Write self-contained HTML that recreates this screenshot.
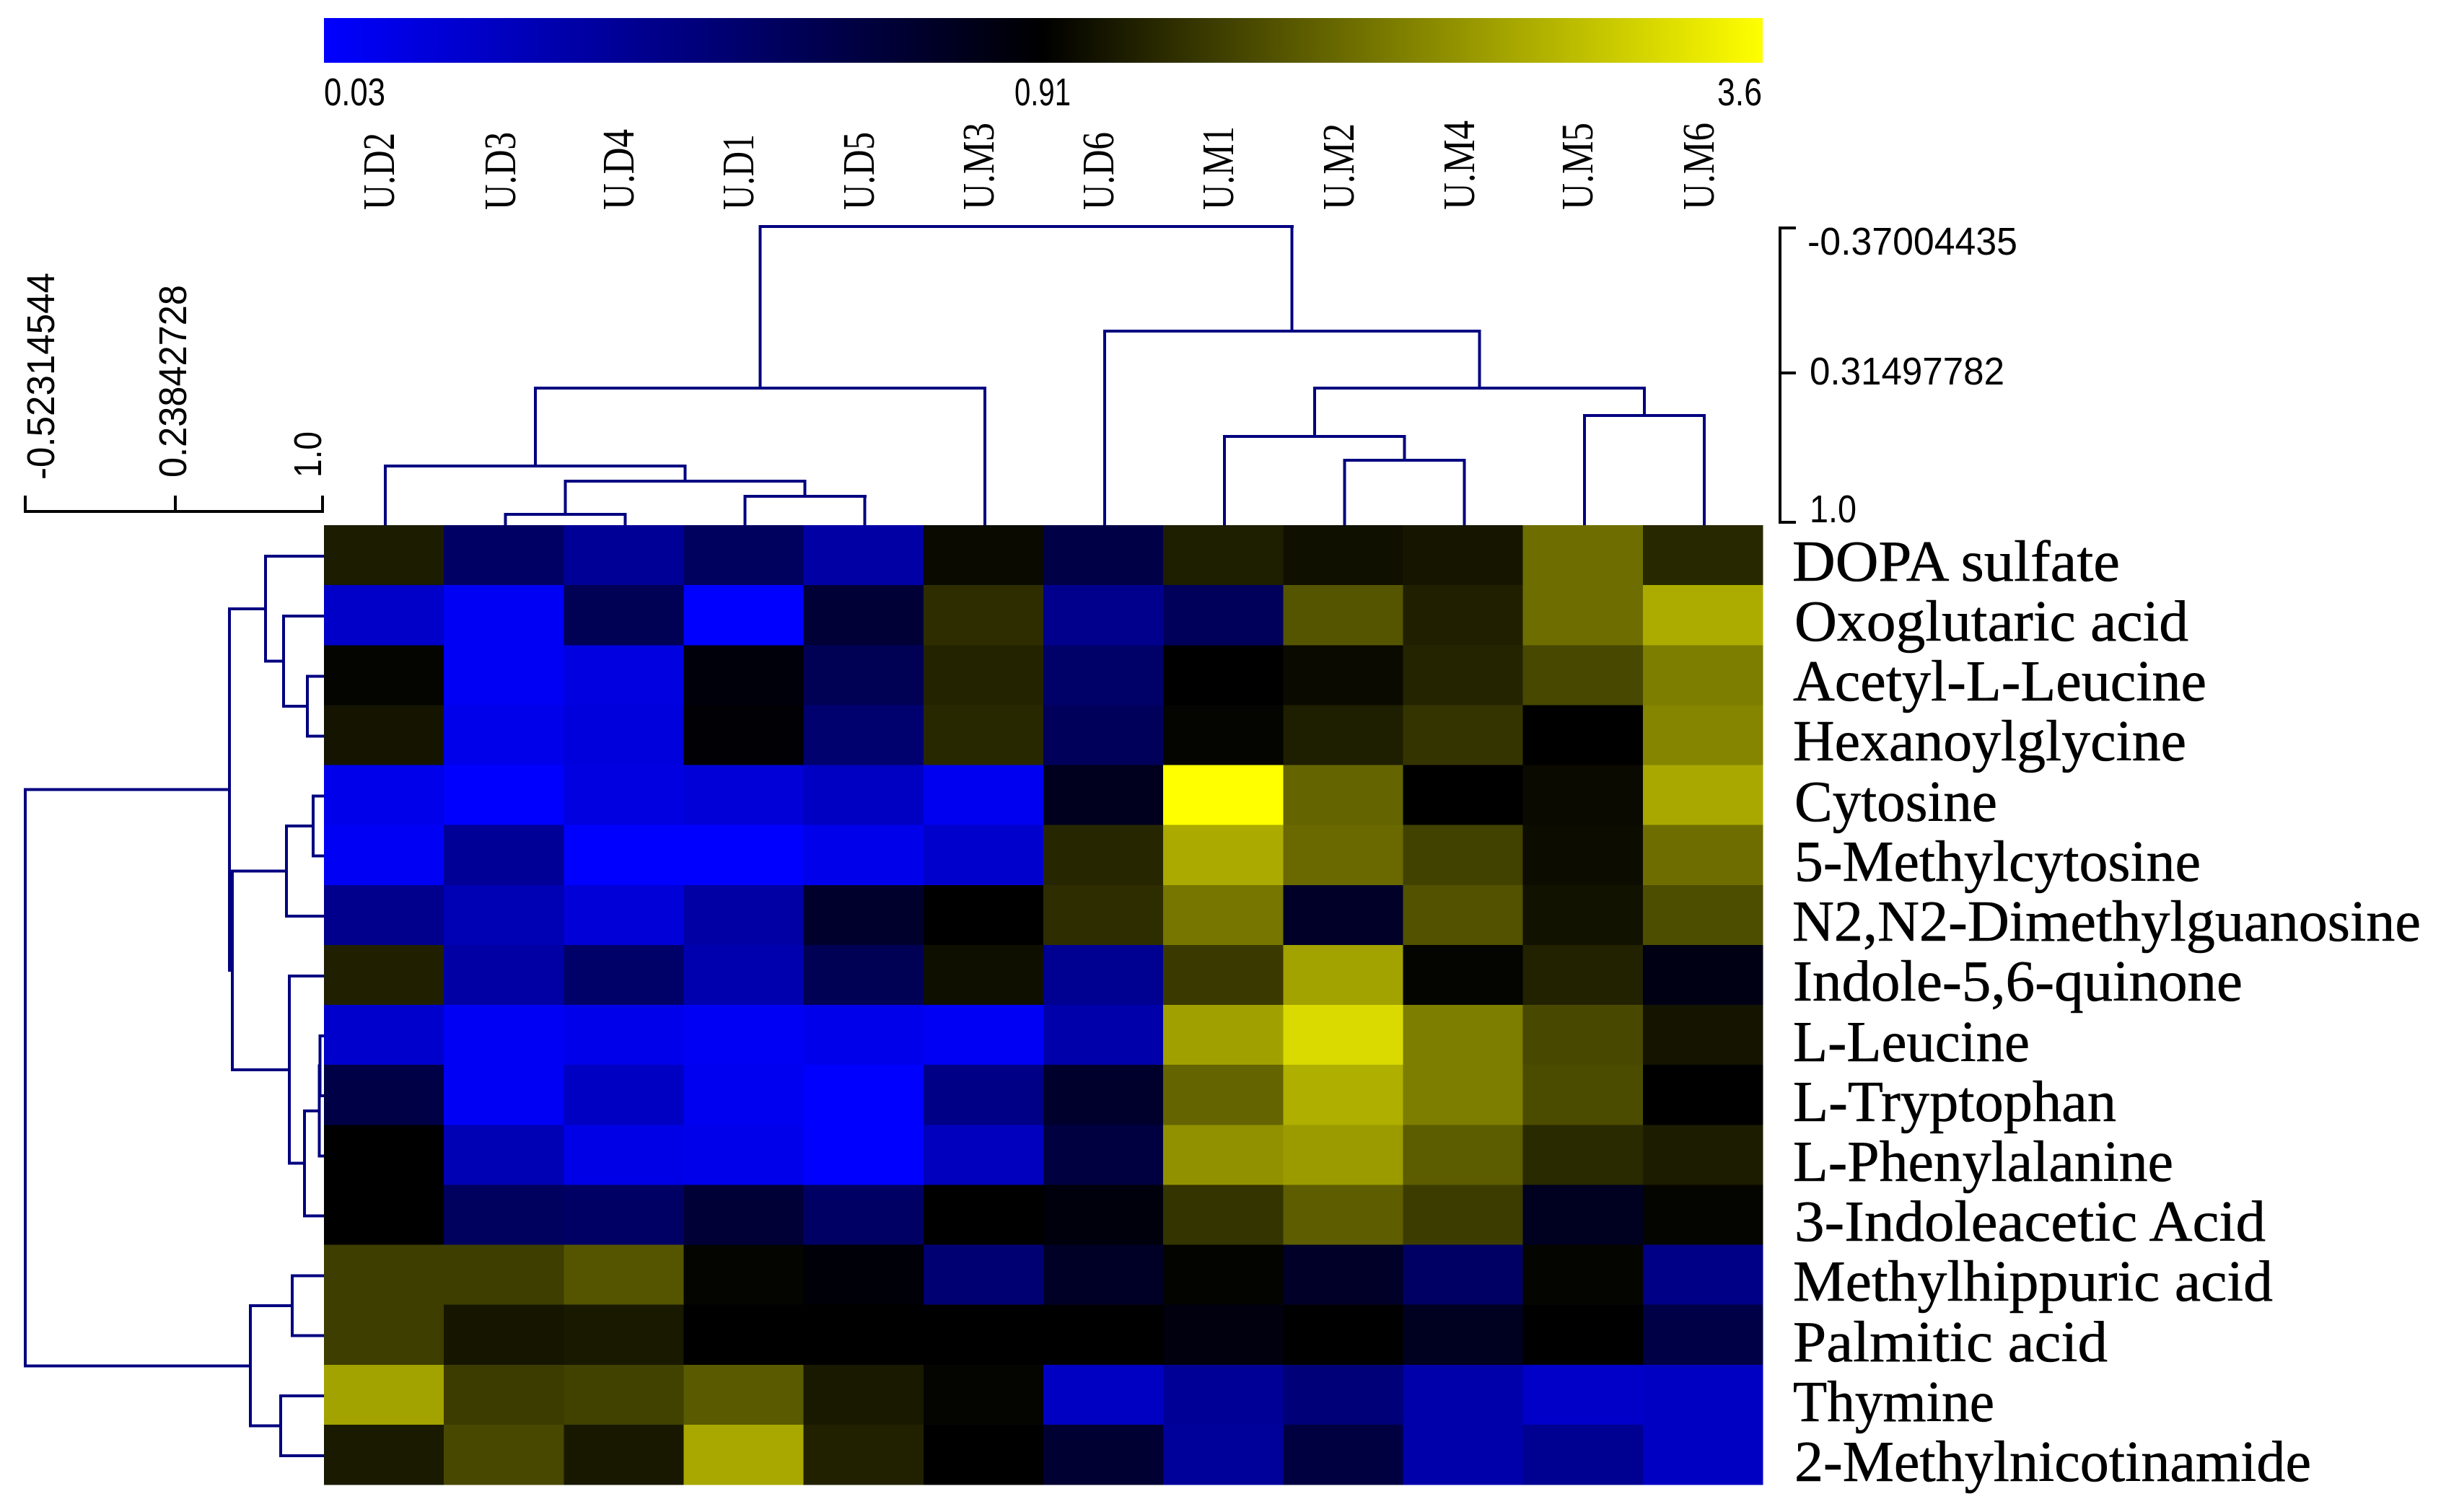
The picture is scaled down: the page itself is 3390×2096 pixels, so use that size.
<!DOCTYPE html>
<html lang="en">
<head>
<meta charset="utf-8">
<title>Metabolite hierarchical clustering heatmap</title>
<style>
html,body{margin:0;padding:0;background:#fff;}
svg{display:block;}
.rl{font-family:"Liberation Serif",serif;font-size:80px;fill:#000;stroke:#000;stroke-width:0.6px;}
.cl{font-family:"Liberation Serif",serif;font-size:62px;fill:#000;}
.ax{font-family:"Liberation Sans",sans-serif;font-size:54px;fill:#000;}
</style>
</head>
<body>
<svg id="chart" xmlns="http://www.w3.org/2000/svg" width="3390" height="2096" viewBox="0 0 3390 2096">
  <defs>
    <linearGradient id="cbar" x1="0" y1="0" x2="1" y2="0">
      <stop offset="0" stop-color="#0000ff"/>
      <stop offset="0.5" stop-color="#000000"/>
      <stop offset="1" stop-color="#ffff00"/>
    </linearGradient>
  </defs>
  <rect x="0" y="0" width="3390" height="2096" fill="#fff"/>

  <g>
    <rect x="449" y="25" width="1994" height="62" fill="url(#cbar)"/>
    <text class="ax" x="449" y="146" textLength="85" lengthAdjust="spacingAndGlyphs">0.03</text>
    <text class="ax" x="1406" y="146" textLength="78" lengthAdjust="spacingAndGlyphs">0.91</text>
    <text class="ax" x="2380" y="146" textLength="62" lengthAdjust="spacingAndGlyphs">3.6</text>
  </g>

  <g>
    <text class="cl" transform="translate(546 291) rotate(-90)" textLength="107" lengthAdjust="spacingAndGlyphs">U.D2</text>
    <text class="cl" transform="translate(714 291) rotate(-90)" textLength="108" lengthAdjust="spacingAndGlyphs">U.D3</text>
    <text class="cl" transform="translate(878 291) rotate(-90)" textLength="112" lengthAdjust="spacingAndGlyphs">U.D4</text>
    <text class="cl" transform="translate(1044 291) rotate(-90)" textLength="105" lengthAdjust="spacingAndGlyphs">U.D1</text>
    <text class="cl" transform="translate(1211 291) rotate(-90)" textLength="108" lengthAdjust="spacingAndGlyphs">U.D5</text>
    <text class="cl" transform="translate(1377 291) rotate(-90)" textLength="121" lengthAdjust="spacingAndGlyphs">U.M3</text>
    <text class="cl" transform="translate(1543 291) rotate(-90)" textLength="108" lengthAdjust="spacingAndGlyphs">U.D6</text>
    <text class="cl" transform="translate(1709 291) rotate(-90)" textLength="116" lengthAdjust="spacingAndGlyphs">U.M1</text>
    <text class="cl" transform="translate(1876 291) rotate(-90)" textLength="120" lengthAdjust="spacingAndGlyphs">U.M2</text>
    <text class="cl" transform="translate(2043 291) rotate(-90)" textLength="124" lengthAdjust="spacingAndGlyphs">U.M4</text>
    <text class="cl" transform="translate(2207 291) rotate(-90)" textLength="121" lengthAdjust="spacingAndGlyphs">U.M5</text>
    <text class="cl" transform="translate(2375 291) rotate(-90)" textLength="121" lengthAdjust="spacingAndGlyphs">U.M6</text>
  </g>

  <g>
    <path d="M2489 316H2467V724H2489M2467 517H2489" fill="none" stroke="#000" stroke-width="4"/>
    <text class="ax" x="2505" y="353" textLength="291" lengthAdjust="spacingAndGlyphs">-0.37004435</text>
    <text class="ax" x="2508" y="533" textLength="270" lengthAdjust="spacingAndGlyphs">0.31497782</text>
    <text class="ax" x="2508" y="724" textLength="65" lengthAdjust="spacingAndGlyphs">1.0</text>
  </g>

  <g>
    <path d="M35 687V709H447V687M243 687V709" fill="none" stroke="#000" stroke-width="4"/>
    <text class="ax" transform="translate(75 665) rotate(-90)" textLength="287" lengthAdjust="spacingAndGlyphs">-0.52314544</text>
    <text class="ax" transform="translate(258 662) rotate(-90)" textLength="267" lengthAdjust="spacingAndGlyphs">0.23842728</text>
    <text class="ax" transform="translate(445 662) rotate(-90)" textLength="64" lengthAdjust="spacingAndGlyphs">1.0</text>
  </g>

  <g id="heatmap" shape-rendering="crispEdges"></g>
  <g id="colTree" shape-rendering="crispEdges"></g>
  <g id="rowTree" shape-rendering="crispEdges"></g>

  <g>
    <text class="rl" x="2484" y="805" textLength="454" lengthAdjust="spacingAndGlyphs">DOPA sulfate</text>
    <text class="rl" x="2487" y="888" textLength="546" lengthAdjust="spacingAndGlyphs">Oxoglutaric acid</text>
    <text class="rl" x="2485" y="971" textLength="573" lengthAdjust="spacingAndGlyphs">Acetyl-L-Leucine</text>
    <text class="rl" x="2485" y="1054" textLength="545" lengthAdjust="spacingAndGlyphs">Hexanoylglycine</text>
    <text class="rl" x="2487" y="1138" textLength="281" lengthAdjust="spacingAndGlyphs">Cytosine</text>
    <text class="rl" x="2487" y="1221" textLength="563" lengthAdjust="spacingAndGlyphs">5-Methylcytosine</text>
    <text class="rl" x="2484" y="1304" textLength="871" lengthAdjust="spacingAndGlyphs">N2,N2-Dimethylguanosine</text>
    <text class="rl" x="2485" y="1387" textLength="623" lengthAdjust="spacingAndGlyphs">Indole-5,6-quinone</text>
    <text class="rl" x="2485" y="1471" textLength="328" lengthAdjust="spacingAndGlyphs">L-Leucine</text>
    <text class="rl" x="2485" y="1554" textLength="448" lengthAdjust="spacingAndGlyphs">L-Tryptophan</text>
    <text class="rl" x="2485" y="1637" textLength="527" lengthAdjust="spacingAndGlyphs">L-Phenylalanine</text>
    <text class="rl" x="2487" y="1720" textLength="653" lengthAdjust="spacingAndGlyphs">3-Indoleacetic Acid</text>
    <text class="rl" x="2485" y="1803" textLength="665" lengthAdjust="spacingAndGlyphs">Methylhippuric acid</text>
    <text class="rl" x="2485" y="1887" textLength="436" lengthAdjust="spacingAndGlyphs">Palmitic acid</text>
    <text class="rl" x="2485" y="1970" textLength="279" lengthAdjust="spacingAndGlyphs">Thymine</text>
    <text class="rl" x="2487" y="2053" textLength="716" lengthAdjust="spacingAndGlyphs">2-Methylnicotinamide</text>
  </g>
</svg>
<script>
// Data
var colorMin = 0.03;
var colorMid = 0.91;
var colorMax = 3.6;

var rowNames = ["dopa-sulfate","oxoglutaric-acid","acetyl-l-leucine","hexanoylglycine","cytosine","5-methylcytosine","n2-n2-dimethylguanosine","indole-5-6-quinone","l-leucine","l-tryptophan","l-phenylalanine","3-indoleacetic-acid","methylhippuric-acid","palmitic-acid","thymine","2-methylnicotinamide"];
var colNames = ["u-d2","u-d3","u-d4","u-d1","u-d5","u-m3","u-d6","u-m1","u-m2","u-m4","u-m5","u-m6"];

var cellValues = [
  [1.205,0.565,0.392,0.582,0.341,1.015,0.668,1.226,1.079,1.142,2.070,1.332],
  [0.220,0.065,0.617,0.030,0.720,1.385,0.427,0.600,1.807,1.248,2.070,2.724],
  [0.963,0.065,0.134,0.875,0.617,1.279,0.548,0.910,1.015,1.290,1.670,2.229],
  [1.121,0.099,0.151,0.893,0.530,1.332,0.600,0.952,1.226,1.459,0.910,2.313],
  [0.099,0.030,0.134,0.168,0.237,0.082,0.806,3.600,1.965,0.910,1.015,2.682],
  [0.065,0.392,0.030,0.030,0.099,0.203,1.311,2.703,2.018,1.596,1.037,2.070],
  [0.427,0.289,0.168,0.341,0.755,0.910,1.385,2.155,0.772,1.775,1.100,1.733],
  [1.248,0.341,0.548,0.306,0.617,1.068,0.410,1.522,2.619,0.952,1.269,0.841],
  [0.203,0.065,0.099,0.065,0.099,0.065,0.323,2.598,3.210,2.229,1.670,1.121],
  [0.668,0.065,0.237,0.082,0.030,0.444,0.755,1.965,2.756,2.229,1.712,0.910],
  [0.910,0.289,0.117,0.099,0.030,0.254,0.686,2.440,2.545,1.881,1.353,1.205],
  [0.910,0.582,0.565,0.720,0.565,0.910,0.869,1.459,1.902,1.543,0.800,0.963],
  [1.564,1.564,1.807,0.952,0.882,0.513,0.779,0.942,0.772,0.565,0.963,0.444],
  [1.564,1.142,1.174,0.910,0.910,0.910,0.910,0.858,0.910,0.800,0.910,0.668],
  [2.619,1.543,1.596,1.859,1.174,0.952,0.237,0.392,0.496,0.323,0.220,0.237],
  [1.184,1.670,1.163,2.682,1.258,0.910,0.737,0.375,0.686,0.323,0.410,0.237]
];

// Dendrogram merges. Child id >= 0 is a leaf, id < 0 is merge number (-id - 1).
var rowMergeLeft  = [2, 1, 0, 4, -4, 8, -6, -7, 7, -5, -3, 12, 14, -12, -11];
var rowMergeRight = [3, -1, -2, 5, 6, 9, 10, 11, -8, -9, -10, 13, 15, -13, -14];
var rowMergeDist  = [0.915, 0.794, 0.702, 0.945, 0.809, 0.980, 0.976, 0.901, 0.823, 0.533, 0.518, 0.838, 0.779, 0.625, -0.523];

var colMergeLeft  = [1, 3, -1, 0, -4, 8, 7, 10, -7, 6, -5];
var colMergeRight = [2, 4, -2, -3, 5, 9, -6, 11, -8, -9, -10];
var colMergeDist  = [0.963, 0.880, 0.810, 0.739, 0.379, 0.713, 0.602, 0.506, 0.379, 0.115, -0.370];

var distMin = -0.52314544;
var colDistMin = -0.37004435;
var distMax = 1.0;

// Axis functions
var NS = "http://www.w3.org/2000/svg";
var heatLeft = 449, heatRight = 2443, heatTop = 728, heatBottom = 2058;
var cellW = (heatRight - heatLeft) / colNames.length;
var cellH = (heatBottom - heatTop) / rowNames.length;
function colX(i){ return heatLeft + i * cellW; }
function rowY(i){ return heatTop + i * cellH; }
function rowDistX(d){ return 449 - (distMax - d) / (distMax - distMin) * 414; }
function colDistY(d){ return 724 - (distMax - d) / (distMax - colDistMin) * 410; }
function cellColor(v){
  var t, c;
  if (v >= colorMid) {
    t = Math.min(1, (v - colorMid) / (colorMax - colorMid));
    c = Math.round(t * 255);
    return "rgb(" + c + "," + c + ",0)";
  }
  t = Math.min(1, (colorMid - v) / (colorMid - colorMin));
  c = Math.round(t * 255);
  return "rgb(0,0," + c + ")";
}

// Heatmap
var heat = document.getElementById("heatmap");
cellValues.forEach(function(row, r){
  row.forEach(function(v, c){
    var el = document.createElementNS(NS, "rect");
    el.setAttribute("x", colX(c).toFixed(2));
    el.setAttribute("y", rowY(r).toFixed(2));
    el.setAttribute("width", (cellW + 0.5).toFixed(2));
    el.setAttribute("height", (cellH + 0.5).toFixed(2));
    el.setAttribute("fill", cellColor(v));
    
    
    heat.appendChild(el);
  });
});

function segment(parent, x, y, w, h, name){
  var el = document.createElementNS(NS, "rect");
  el.setAttribute("x", x.toFixed(1));
  el.setAttribute("y", y.toFixed(1));
  el.setAttribute("width", w.toFixed(1));
  el.setAttribute("height", h.toFixed(1));
  el.setAttribute("fill", "#000080");
  
  
  parent.appendChild(el);
}

// Row dendrogram: grows left from the heatmap
var rowTree = document.getElementById("rowTree");
var rowNodes = [];
function rowChild(id){
  if (id >= 0) return {x: heatLeft, y: rowY(id) + cellH / 2 + 1.5};
  return rowNodes[-id - 1];
}
rowMergeDist.forEach(function(d, i){
  var a = rowChild(rowMergeLeft[i]), b = rowChild(rowMergeRight[i]);
  var x = rowDistX(d), lw = 4, lh = 4;
  segment(rowTree, x - lw / 2, a.y - lh / 2, lw, b.y - a.y + lh, 'row-merge-' + i + '-stem');
  segment(rowTree, x, a.y - lh / 2, a.x - x, lh, 'row-merge-' + i + '-branch-a');
  segment(rowTree, x, b.y - lh / 2, b.x - x, lh, 'row-merge-' + i + '-branch-b');
  rowNodes.push({x: x, y: (a.y + b.y) / 2});
});

// Column dendrogram: grows up from the heatmap
var colTree = document.getElementById("colTree");
var colNodes = [];
function colChild(id){
  if (id >= 0) return {x: colX(id) + cellW / 2 + 2, y: heatTop};
  return colNodes[-id - 1];
}
colMergeDist.forEach(function(d, i){
  var a = colChild(colMergeLeft[i]), b = colChild(colMergeRight[i]);
  var y = colDistY(d), lw = 4, lh = 4;
  segment(colTree, a.x - lw / 2, y - lh / 2, b.x - a.x + lw, lh, 'column-merge-' + i + '-stem');
  segment(colTree, a.x - lw / 2, y, lw, a.y - y, 'column-merge-' + i + '-branch-a');
  segment(colTree, b.x - lw / 2, y, lw, b.y - y, 'column-merge-' + i + '-branch-b');
  colNodes.push({x: (a.x + b.x) / 2, y: y});
});
</script>
</body>
</html>
